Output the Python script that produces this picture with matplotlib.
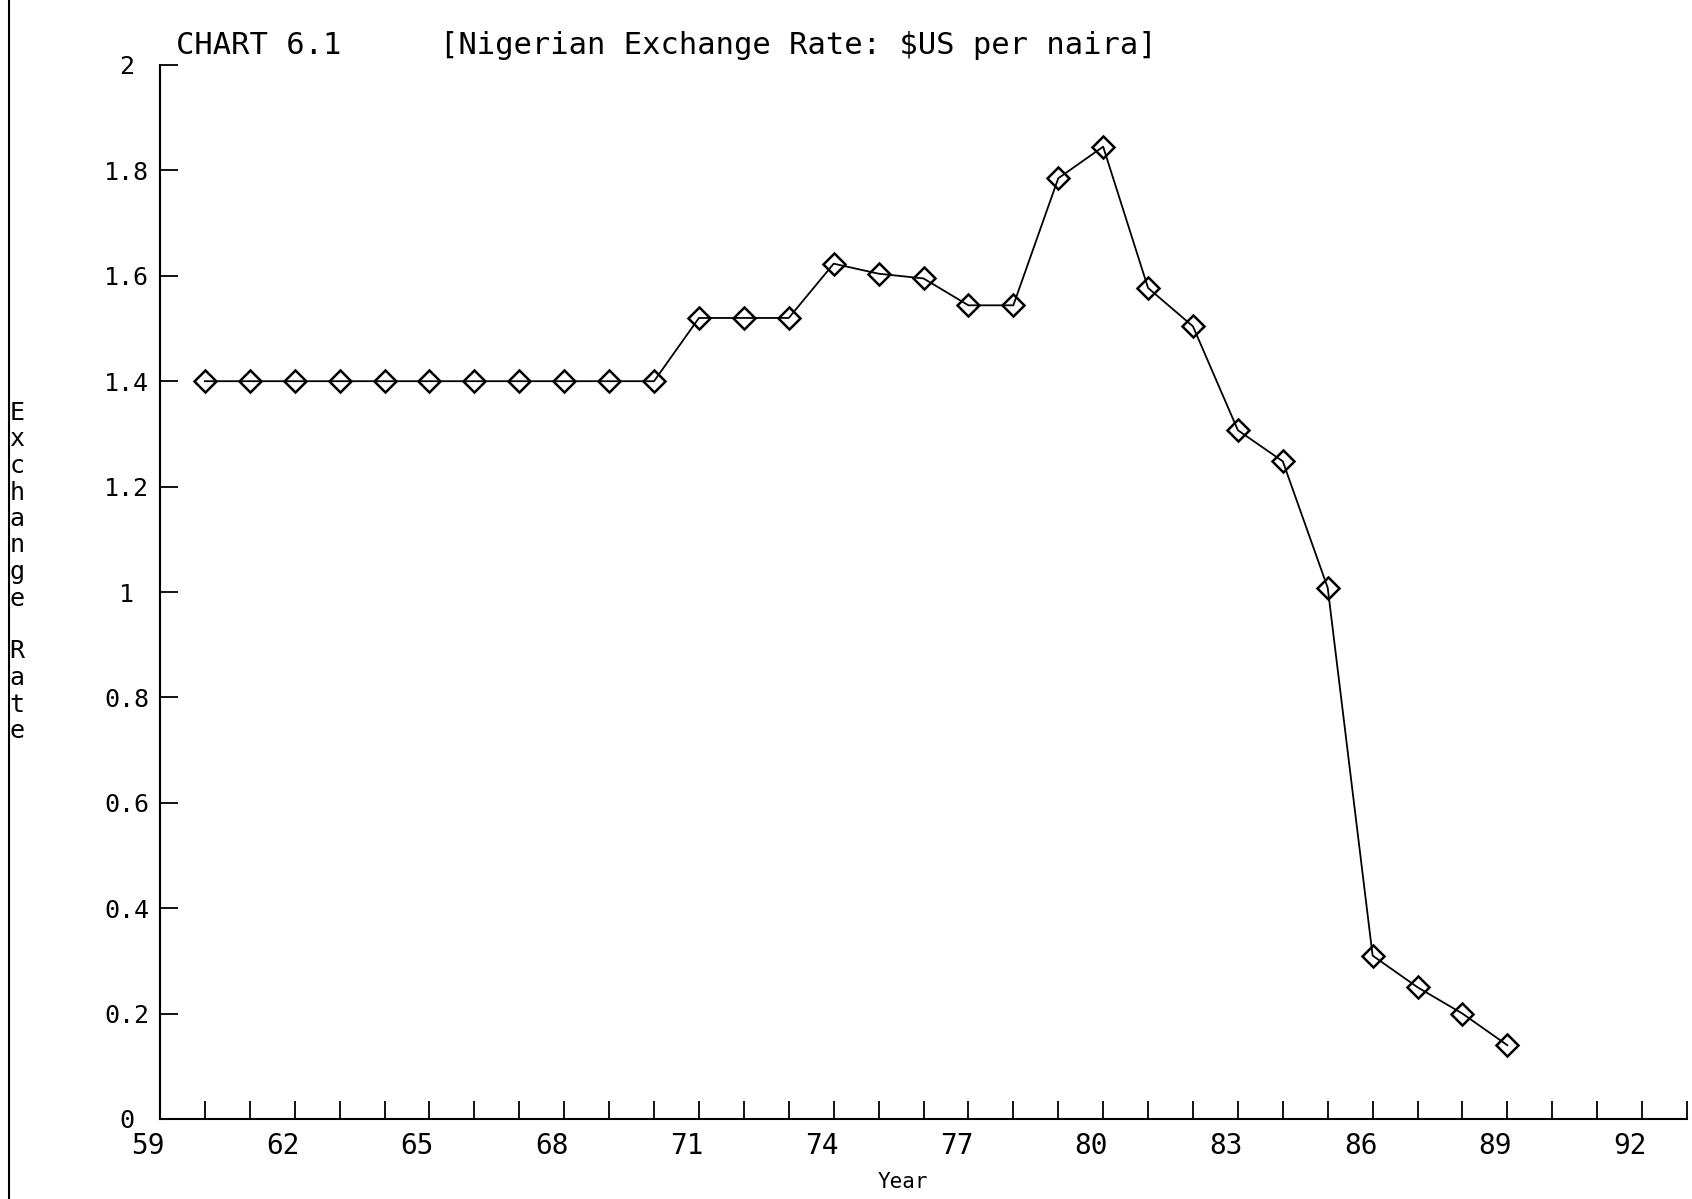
import matplotlib
matplotlib.use("Agg")
import matplotlib.pyplot as plt
import matplotlib.transforms as mtransforms
from matplotlib.lines import Line2D

# Nigerian exchange rate, US dollars per naira, 1960-1989
years = [60, 61, 62, 63, 64, 65, 66, 67, 68, 69, 70,
         71, 72, 73, 74, 75, 76, 77, 78, 79, 80,
         81, 82, 83, 84, 85, 86, 87, 88, 89]
rate = [1.40, 1.40, 1.40, 1.40, 1.40, 1.40, 1.40, 1.40, 1.40, 1.40, 1.40,
        1.52, 1.52, 1.52, 1.623, 1.604, 1.595, 1.544, 1.544, 1.785, 1.845,
        1.577, 1.504, 1.307, 1.248, 1.008, 0.310, 0.250, 0.200, 0.140]

x_ticks_major = [59, 62, 65, 68, 71, 74, 77, 80, 83, 86, 89, 92]
y_ticks = [0, 0.2, 0.4, 0.6, 0.8, 1, 1.2, 1.4, 1.6, 1.8, 2]
y_tick_labels = ["0", "0.2", "0.4", "0.6", "0.8", "1", "1.2", "1.4", "1.6", "1.8", "2"]

FONT = "DejaVu Sans Mono"
W, H = 1692, 1199
fig = plt.figure(figsize=(W / 100, H / 100), dpi=100)
ax = fig.add_axes([160 / W, 80 / H, (1687 - 160) / W, (1134 - 80) / H])

ax.plot(years, rate, color="black", lw=1.3, marker="D", markersize=11,
        markerfacecolor="none", markeredgecolor="black", markeredgewidth=1.8,
        clip_on=False, zorder=3)

ax.set_xlim(59, 93)
ax.set_ylim(0, 2)
for side in ("top", "right"):
    ax.spines[side].set_visible(False)
for side in ("left", "bottom"):
    ax.spines[side].set_linewidth(1.5)

ax.set_xticks(x_ticks_major)
ax.set_xticklabels([str(v) for v in x_ticks_major], fontfamily=FONT, fontsize=20)
ax.set_xticks(list(range(60, 94)), minor=True)
ax.tick_params(axis="x", which="both", direction="in", length=13, width=1.3, pad=9)
ax.tick_params(axis="x", which="minor", labelbottom=False)

ax.set_yticks(y_ticks)
ax.set_yticklabels(y_tick_labels, fontfamily=FONT, fontsize=18)
ax.tick_params(axis="y", direction="in", length=13, width=1.3, pad=24)
for lab in ax.get_yticklabels():
    lab.set_horizontalalignment("center")

# x tick labels sit slightly left of their ticks
shift = mtransforms.ScaledTranslation(-12 / 100, 0, fig.dpi_scale_trans)
for lab in ax.get_xticklabels():
    lab.set_transform(lab.get_transform() + shift)

# heading
fig.text(176 / W, 1 - 45 / H, "CHART 6.1", fontfamily=FONT, fontsize=22,
         ha="left", va="center")
fig.text(440 / W, 1 - 45 / H, "[Nigerian Exchange Rate: $US per naira]",
         fontfamily=FONT, fontsize=22, ha="left", va="center")

# vertical y-axis title, one letter per line
label = "Exchange Rate"
for i, ch in enumerate(label):
    if ch != " ":
        fig.text(17 / W, 1 - (413 + i * 26.5) / H, ch, fontfamily=FONT,
                 fontsize=18, ha="center", va="center")

# x-axis title at the foot of the page
fig.text(878 / W, 1 - 1172 / H, "Year", fontfamily=FONT, fontsize=15,
         ha="left", va="top")

# page edge rule on the left
fig.add_artist(Line2D([9 / W, 9 / W], [0, 1], transform=fig.transFigure,
                      color="black", lw=1.5))

fig.savefig("out.png", dpi=100)
